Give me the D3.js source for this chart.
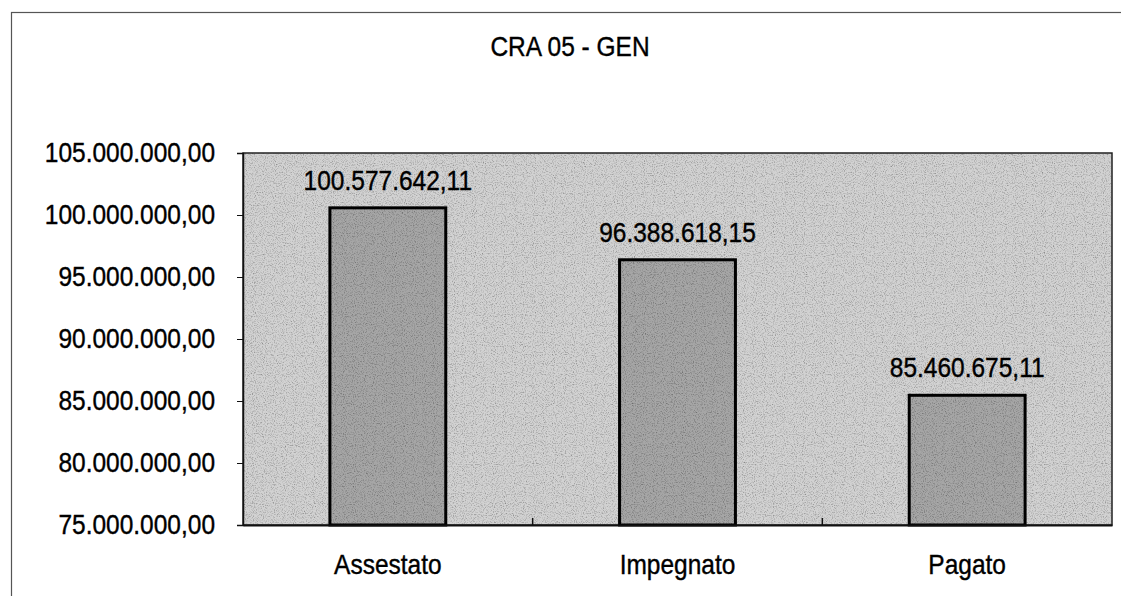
<!DOCTYPE html>
<html>
<head>
<meta charset="utf-8">
<script src="https://cdn.jsdelivr.net/npm/d3@7"></script>
<style>
  body { margin: 0; background: #fff; }
  text { font-family: "Liberation Sans", Arial, sans-serif; fill: #000; stroke: #000; stroke-width: 0.35px; }
</style>
</head>
<body>
<svg id="chart" width="1121" height="596"></svg>
<script>
// data
const categories = ["Assestato", "Impegnato", "Pagato"];
const values = [100577642.11, 96388618.15, 85460675.11];
const yTicks = [75000000, 80000000, 85000000, 90000000, 95000000, 100000000, 105000000];
const title = "CRA 05 - GEN";

const W = 1121, H = 596;
const plot = {left: 243, top: 153, right: 1112, bottom: 525};
const stretch = "scale(1,1.12)"; // scanned text is a bit taller than wide

const svg = d3.select("#chart");

// scanned-paper grain
var defs = svg.append("defs");
var f = defs.append("filter").attr("id", "grain").attr("x", 0).attr("y", 0).attr("width", 1).attr("height", 1);
f.append("feTurbulence").attr("type", "fractalNoise").attr("baseFrequency", 0.9).attr("numOctaves", 2).attr("seed", 3).attr("result", "n");
f.append("feColorMatrix").attr("in", "n").attr("type", "matrix")
    .attr("values", "0 0 0 0 0  0 0 0 0 0  0 0 0 0 0  0 0 0 -1.4 0.75").attr("result", "dots");
f.append("feComposite").attr("in", "dots").attr("in2", "SourceGraphic").attr("operator", "in").attr("result", "d2");
f.append("feMerge").selectAll("feMergeNode").data(["SourceGraphic", "d2"]).enter()
    .append("feMergeNode").attr("in", d => d);

// italian number format: 100.577.642,11
const it = d3.formatLocale({decimal: ",", thousands: ".", grouping: [3], currency: ["€", ""]});
const fmt = it.format(",.2f");

// chart frame (runs off the right and bottom of the picture)
svg.append("rect")
    .attr("x", 11.5).attr("y", 12.5)
    .attr("width", W + 20).attr("height", H + 20)
    .attr("fill", "none")
    .attr("stroke", "#555")
    .attr("stroke-width", 1.2);

svg.append("text")
    .attr("transform", "translate(570,56) " + stretch)
    .attr("text-anchor", "middle")
    .style("font-size", "24.5px")
    .text(title);

var x = d3.scaleBand()
    .domain(categories)
    .range([plot.left, plot.right])
    .paddingInner(0.6)
    .paddingOuter(0.3);

var y = d3.scaleLinear()
    .domain([d3.min(yTicks), d3.max(yTicks)])
    .range([plot.bottom, plot.top]);

// plot area background
svg.append("rect")
    .attr("x", plot.left).attr("y", plot.top)
    .attr("width", plot.right - plot.left)
    .attr("height", plot.bottom - plot.top)
    .attr("fill", "#d2d2d2")
    .attr("filter", "url(#grain)");
svg.append("rect")
    .attr("x", plot.left).attr("y", plot.top)
    .attr("width", plot.right - plot.left)
    .attr("height", plot.bottom - plot.top)
    .attr("fill", "none")
    .attr("stroke", "#222")
    .attr("stroke-width", 1.5);

// bars
svg.selectAll("rect.bar")
    .data(values)
    .enter()
    .append("rect")
    .attr("class", "bar")
    .attr("x", (d, i) => x(categories[i]))
    .attr("y", d => y(d))
    .attr("width", x.bandwidth())
    .attr("height", d => plot.bottom - y(d))
    .attr("fill", "#a6a6a6")
    .attr("filter", "url(#grain)");
svg.selectAll("rect.barline")
    .data(values)
    .enter()
    .append("rect")
    .attr("class", "barline")
    .attr("x", (d, i) => x(categories[i]))
    .attr("y", d => y(d))
    .attr("width", x.bandwidth())
    .attr("height", d => plot.bottom - y(d))
    .attr("fill", "none")
    .attr("stroke", "#000")
    .attr("stroke-width", 3);

// value labels
svg.selectAll("text.val")
    .data(values)
    .enter()
    .append("text")
    .attr("class", "val")
    .attr("transform", (d, i) => "translate(" + (x(categories[i]) + x.bandwidth() / 2) + "," + (y(d) - 18) + ") " + stretch)
    .attr("text-anchor", "middle")
    .style("font-size", "24.5px")
    .text(d => fmt(d));

// y axis
var yAxis = svg.append("g")
    .attr("transform", "translate(" + plot.left + ",0)")
    .call(d3.axisLeft(y).tickValues(yTicks).tickSize(6).tickPadding(22).tickFormat(fmt));
yAxis.select(".domain").attr("stroke", "#111").attr("stroke-width", 1.5);
yAxis.selectAll(".tick line").attr("stroke", "#111");
yAxis.selectAll(".tick text")
    .attr("transform", stretch)
    .style("font-size", "24.5px")
    .style("font-family", "'Liberation Sans', Arial, sans-serif")
    .attr("fill", "#000");

// x axis: category labels, ticks between categories pointing inward
var xAxis = svg.append("g")
    .attr("transform", "translate(0," + plot.bottom + ")")
    .call(d3.axisBottom(x).tickSize(0).tickPadding(26));
xAxis.select(".domain").attr("stroke", "#111").attr("stroke-width", 2);
xAxis.selectAll(".tick text")
    .attr("transform", stretch)
    .style("font-size", "24.5px")
    .style("font-family", "'Liberation Sans', Arial, sans-serif")
    .attr("fill", "#000");

var step = x.step();
svg.selectAll("line.sep")
    .data(categories.slice(1))
    .enter()
    .append("line")
    .attr("class", "sep")
    .attr("x1", d => x(d) - step * x.paddingInner() / 2)
    .attr("x2", d => x(d) - step * x.paddingInner() / 2)
    .attr("y1", plot.bottom)
    .attr("y2", plot.bottom - 7)
    .attr("stroke", "#111")
    .attr("stroke-width", 1.5);
</script>
</body>
</html>
